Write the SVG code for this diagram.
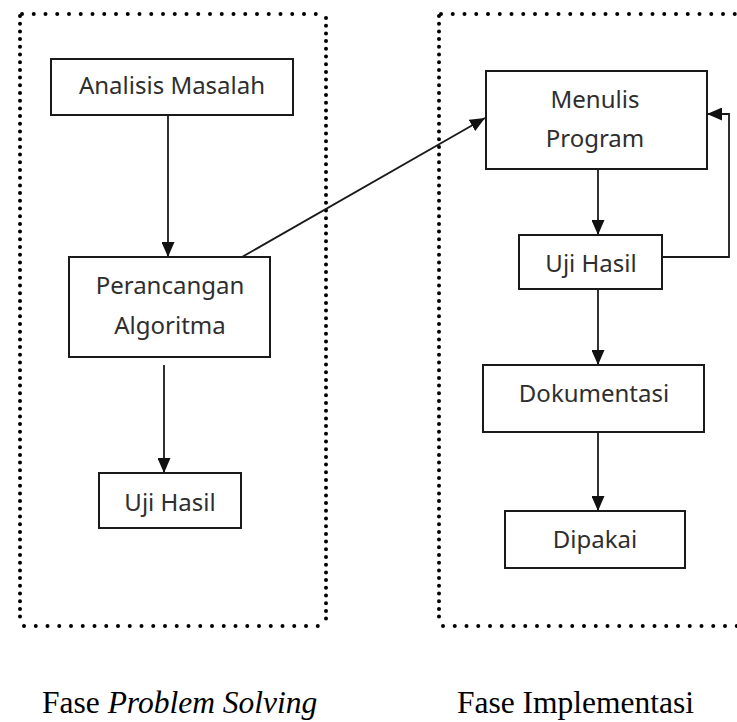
<svg xmlns="http://www.w3.org/2000/svg" width="737" height="722" viewBox="0 0 737 722">
  <style>
    .box { fill: #ffffff; stroke: #1a1a1a; stroke-width: 2; }
    .lbl { font-family: "Noto Sans", "Open Sans", sans-serif; font-size: 24px; fill: #2e2e2e; text-anchor: middle; }
    .cap { font-family: "Liberation Serif", serif; font-size: 31.5px; fill: #000000; }
    .hdot { fill: none; stroke: #000; stroke-width: 4; stroke-linecap: round; stroke-dasharray: 0 11.75; }
    .vdot { fill: none; stroke: #000; stroke-width: 4; stroke-linecap: round; stroke-dasharray: 0 7.7; }
    .conn { fill: none; stroke: #1a1a1a; stroke-width: 1.8; }
  </style>
  <defs>
    <marker id="ah" markerUnits="userSpaceOnUse" markerWidth="15" markerHeight="13" refX="15" refY="6.5" orient="auto">
      <path d="M0,0 L15,6.5 L0,13 z" fill="#111111"/>
    </marker>
  </defs>
  <rect width="737" height="722" fill="#ffffff"/>

  <g id="phase-problem-solving">
    <line class="hdot" x1="22" y1="14" x2="322" y2="14"/>
    <line class="vdot" x1="326" y1="18" x2="326" y2="622"/>
    <line class="hdot" x1="24" y1="626" x2="324" y2="626"/>
    <line class="vdot" x1="20" y1="16" x2="20" y2="622"/>
  </g>
  <g id="phase-implementasi">
    <line class="hdot" x1="441" y1="14" x2="737" y2="14"/>
    <line class="vdot" x1="439" y1="16" x2="439" y2="622"/>
    <line class="hdot" x1="443" y1="626" x2="737" y2="626"/>
  </g>

  <g id="connectors">
    <line class="conn" x1="168" y1="115" x2="168" y2="257" marker-end="url(#ah)"/>
    <line class="conn" x1="164" y1="365" x2="164" y2="473" marker-end="url(#ah)"/>
    <line class="conn" x1="242" y1="257" x2="485" y2="118" marker-end="url(#ah)"/>
    <line class="conn" x1="598" y1="169" x2="598" y2="235" marker-end="url(#ah)"/>
    <polyline class="conn" points="662,257 729,257 729,114 707,114" marker-end="url(#ah)"/>
    <line class="conn" x1="598" y1="289" x2="598" y2="365" marker-end="url(#ah)"/>
    <line class="conn" x1="598" y1="432" x2="598" y2="511" marker-end="url(#ah)"/>
  </g>

  <g id="analisis-masalah">
    <rect class="box" x="51" y="59" width="242" height="56"/>
    <text class="lbl" x="172" y="94">Analisis Masalah</text>
  </g>
  <g id="perancangan-algoritma">
    <rect class="box" x="69" y="257" width="201" height="100"/>
    <text class="lbl" x="170" y="294">Perancangan</text>
    <text class="lbl" x="170" y="334">Algoritma</text>
  </g>
  <g id="uji-hasil-1">
    <rect class="box" x="99" y="473" width="142" height="55"/>
    <text class="lbl" x="170" y="511">Uji Hasil</text>
  </g>
  <g id="menulis-program">
    <rect class="box" x="486" y="71" width="221" height="98"/>
    <text class="lbl" x="595" y="108">Menulis</text>
    <text class="lbl" x="595" y="147">Program</text>
  </g>
  <g id="uji-hasil-2">
    <rect class="box" x="519" y="235" width="143" height="54"/>
    <text class="lbl" x="591" y="272">Uji Hasil</text>
  </g>
  <g id="dokumentasi">
    <rect class="box" x="483" y="365" width="221" height="67"/>
    <text class="lbl" x="594" y="402">Dokumentasi</text>
  </g>
  <g id="dipakai">
    <rect class="box" x="505" y="511" width="180" height="57"/>
    <text class="lbl" x="595" y="548">Dipakai</text>
  </g>

  <g id="captions">
    <text class="cap" x="42" y="713">Fase <tspan font-style="italic">Problem Solving</tspan></text>
    <text class="cap" x="457" y="713">Fase Implementasi</text>
  </g>
</svg>
